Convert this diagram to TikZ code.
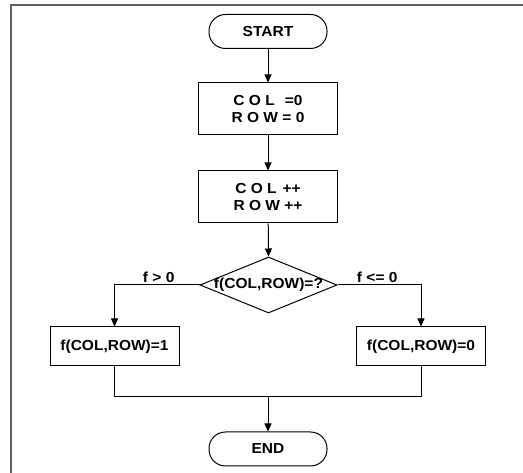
\documentclass[tikz,border=0pt]{standalone}
\usepackage{fontspec}
\setmainfont{Liberation Sans}[FakeStretch=1.07]
\usetikzlibrary{shapes.geometric,arrows.meta}
\begin{document}
\begin{tikzpicture}[x=1pt,y=-1pt,
  every node/.style={font=\bfseries\fontsize{14.5}{17}\selectfont, align=center},
  term/.style={draw, line width=1pt, rounded corners=16.5pt, minimum width=118pt, minimum height=34pt, inner sep=0pt},
  proc/.style={draw, line width=1pt, minimum width=139pt, minimum height=52pt, inner sep=0pt},
  fbox/.style={draw, line width=1pt, minimum width=129pt, minimum height=39pt, inner sep=0pt},
  dia/.style={draw, diamond, line width=1pt, minimum width=137pt, minimum height=56pt, inner sep=0pt},
  conn/.style={line width=1pt},
  arr/.style={conn, -{Triangle[length=8pt,width=7pt]}},
  lbl/.style={anchor=south, inner sep=1.5pt}
]
\useasboundingbox (0,0) rectangle (523,473);
\draw[line width=1.2pt, color={rgb,255:red,95;green,95;blue,95}] (11,473) -- (11,5) -- (523,5);

\node[term] (start) at (268,31.5) {START};
\node[proc] (b1) at (268,109) {C O L\hspace{10pt}=0\\R O W = 0};
\node[proc] (b2) at (268,197) {C O L\hspace{6pt}++\\R O W ++};
\node[dia] (d) at (268.5,285) {};
\node (dtext) at (268.5,285) {f(COL,ROW)=?};
\node[fbox] (f1) at (114.5,346.5) {f(COL,ROW)=1};
\node[fbox] (f0) at (421,346.5) {f(COL,ROW)=0};
\node[term] (end) at (268,449) {END};
\coordinate (ml) at (114.5,397);
\coordinate (mr) at (421,397);
\coordinate (mc) at (268,397);

\draw[arr] (start) -- (b1);
\draw[arr] (b1) -- (b2);
\draw[arr] (b2) -- (d.north);
\draw[arr] (d.west) -| node[lbl, pos=0.24] {f > 0} (f1.north);
\draw[arr] (d.east) -| node[lbl, pos=0.238] {f <= 0} (f0.north);
\draw[conn] (f1.south) -- (ml) -- (mr) -- (f0.south);
\draw[arr] (mc) -- (end);
\end{tikzpicture}
\end{document}
